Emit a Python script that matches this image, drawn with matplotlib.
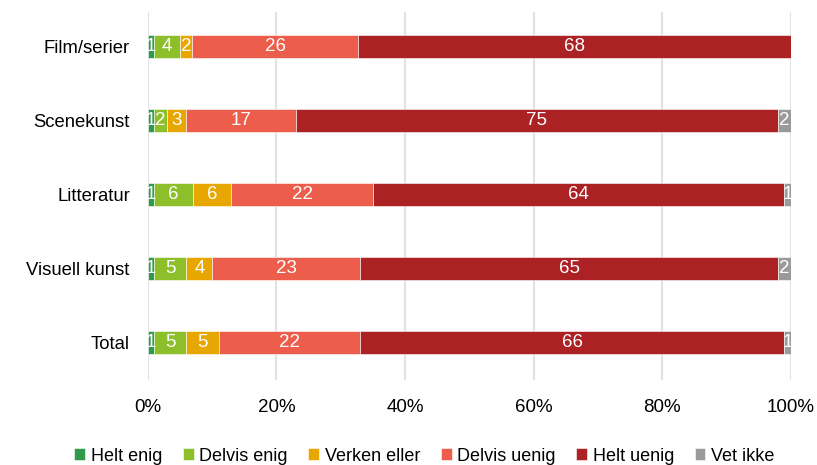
import numpy as np
import matplotlib.pyplot as plt

plt.rcParams['font.family'] = ['Liberation Sans', 'DejaVu Sans']

# categories, top to bottom
categories = ['Film/serier', 'Scenekunst', 'Litteratur', 'Visuell kunst', 'Total']
series_names = ['Helt enig', 'Delvis enig', 'Verken eller', 'Delvis uenig', 'Helt uenig', 'Vet ikke']
colors = ['#2f9a4c', '#8cbf2a', '#e8a600', '#ec5d4b', '#ac2124', '#9a9a9a']

# percent answering each option, per category
helt_enig = [1, 1, 1, 1, 1]
delvis_enig = [4, 2, 6, 5, 5]
verken_eller = [2, 3, 6, 4, 5]
delvis_uenig = [26, 17, 22, 23, 22]
helt_uenig = [68, 75, 64, 65, 66]
vet_ikke = [0, 2, 1, 2, 1]

values = np.array([helt_enig, delvis_enig, verken_eller, delvis_uenig, helt_uenig, vet_ikke], dtype=float)
# 100% stacked: scale each row so it fills the axis
shares = values / values.sum(axis=0) * 100

fig, ax = plt.subplots(figsize=(8.17, 4.65), dpi=100)
fig.subplots_adjust(left=0.181, right=0.968, top=0.974, bottom=0.183)

y = np.arange(len(categories))[::-1]
left = np.zeros(len(categories))
for i, name in enumerate(series_names):
    bars = ax.barh(y, shares[i], left=left, height=0.31, color=colors[i],
                   edgecolor='white', linewidth=0.4, label=name, zorder=3)
    for j, rect in enumerate(bars):
        if values[i, j] > 0:
            ax.text(left[j] + shares[i, j] / 2, y[j], f'{values[i, j]:.0f}',
                    ha='center', va='center', color='white', fontsize=13.5, zorder=4)
    left += shares[i]

ax.set_xlim(0, 100)
ax.set_ylim(-0.5, 4.46)
ax.set_yticks(y)
ax.set_yticklabels(categories, fontsize=13.3)
ax.set_xticks(np.arange(0, 101, 20))
ax.set_xticklabels([f'{v}%' for v in range(0, 101, 20)], fontsize=13.5)
ax.tick_params(axis='both', length=0)
ax.tick_params(axis='x', pad=14)
ax.tick_params(axis='y', pad=13)
ax.grid(axis='x', color='#e2e2e2', linewidth=1.5, zorder=0)
for spine in ax.spines.values():
    spine.set_visible(False)

ax.legend(loc='center', bbox_to_anchor=(0.43, -0.207), ncol=6, frameon=False,
          fontsize=13, handlelength=0.6, handleheight=0.6, handletextpad=0.3,
          columnspacing=1.15, borderaxespad=0)

fig.savefig('out.png')
